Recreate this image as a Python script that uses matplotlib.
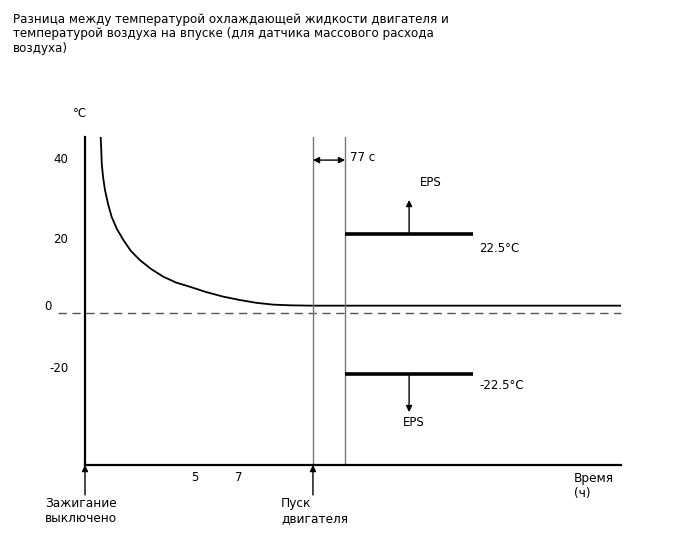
import numpy as np
import matplotlib
matplotlib.use("Agg")
import matplotlib.pyplot as plt
import matplotlib.transforms as mtransforms

plt.rcParams['font.family'] = ['DejaVu Sans']

# ---------- data ---------- #
title = ("Разница между температурой охлаждающей жидкости двигателя и\n"
         "температурой воздуха на впуске (для датчика массового расхода\n"
         "воздуха)")

# coolant - intake air difference after ignition off (time in h, temp in C)
curve_t = [0.71, 0.74, 0.76, 0.82, 0.91, 1.05, 1.21, 1.45, 1.74, 2.09, 2.50,
           3.00, 3.55, 4.14, 4.77, 5.50, 6.27, 7.05, 7.80, 8.55, 9.32, 10.36, 24.36]
curve_dt = [50.4, 46.6, 42.9, 38.9, 35.1, 31.1, 27.5, 24.0, 20.9, 17.7, 15.1,
            12.6, 10.4, 8.7, 7.5, 6.0, 4.7, 3.7, 2.9, 2.4, 2.2, 2.1, 2.1]

engine_start = 10.36          # h
delay_end = 11.82             # engine start + 77 s (schematic)
band_end = 17.64
eps_t = 14.73
thresholds = [22.5, -22.5]
threshold_labels = ["22.5°C", "-22.5°C"]

y_ticks = [40, 20, 0, -20]
x_ticks = [5, 7]
t_max = 24.36
y_top, y_bottom = 50.3, -56.3


# schematic y axis: different scale above and below zero
def fwd(v):
    v = np.asarray(v, dtype=float)
    return np.where(v >= 0, v * 3.5, v * 2.7)


def inv(v):
    v = np.asarray(v, dtype=float)
    return np.where(v >= 0, v / 3.5, v / 2.7)


fig = plt.figure(figsize=(6.88, 5.6), dpi=100)
ax = fig.add_axes([85 / 688, 95 / 560, 536 / 688, 328 / 560])
ax.set_yscale('function', functions=(fwd, inv))
ax.set_xlim(0, t_max)
ax.set_ylim(y_bottom, y_top)

for s in ['top', 'right']:
    ax.spines[s].set_visible(False)
ax.spines['left'].set_linewidth(1.6)
ax.spines['bottom'].set_linewidth(1.6)

ax.set_yticks(y_ticks)
ax.set_yticklabels([str(v) for v in y_ticks])
ax.set_xticks(x_ticks)
ax.set_xticklabels([str(v) for v in x_ticks])
ax.tick_params(axis='both', length=0, labelsize=8.5)
ax.tick_params(axis='y', pad=12)
ax.tick_params(axis='x', pad=4)
ax.yaxis.set_minor_locator(matplotlib.ticker.NullLocator())

# nudge the y labels to where the schematic has them (pixels: right, up)
nudges = [(0, 15), (0, 5), (-17, 8), (0, 0)]
for lab, (dx, dy) in zip(ax.get_yticklabels(), nudges):
    off = mtransforms.ScaledTranslation(dx / 100, dy / 100, fig.dpi_scale_trans)
    lab.set_transform(lab.get_transform() + off)

# zero line
ax.plot([-1.23, t_max], [0, 0], color='#555555', lw=1, ls=(0, (6, 4)), clip_on=False)

# curve
ax.plot(curve_t, curve_dt, color='black', lw=1.3)

# vertical markers
ax.axvline(engine_start, color='#777777', lw=1)
ax.axvline(delay_end, color='#777777', lw=1)

# 77 s span
ax.annotate('', xy=(delay_end, 43.7), xytext=(engine_start, 43.7),
            arrowprops=dict(arrowstyle='<|-|>', color='black', lw=1,
                            mutation_scale=9, shrinkA=0, shrinkB=0))
ax.text(delay_end + 0.23, 44.3, "77 с", fontsize=8.5, va='center', ha='left')

# threshold bands
for th, lab in zip(thresholds, threshold_labels):
    ax.plot([delay_end, band_end], [th, th], color='black', lw=2.6,
            solid_capstyle='butt')
    ax.text(band_end + 0.27, th - 4 if th > 0 else th - 4.2, lab,
            fontsize=8.5, ha='left', va='center')

ax.annotate('', xy=(eps_t, 32.3), xytext=(eps_t, thresholds[0]),
            arrowprops=dict(arrowstyle='-|>', color='black', lw=1,
                            mutation_scale=9, shrinkA=0, shrinkB=0))
ax.text(eps_t + 1.0, 37.4, "EPS", fontsize=8.5, ha='center', va='center')
ax.annotate('', xy=(eps_t, -36.7), xytext=(eps_t, thresholds[1]),
            arrowprops=dict(arrowstyle='-|>', color='black', lw=1,
                            mutation_scale=9, shrinkA=0, shrinkB=0))
ax.text(eps_t + 0.22, -40.4, "EPS", fontsize=8.5, ha='center', va='center')

# unit label
ax.text(-0.23, 57.1, "°C", fontsize=8.5, ha='center', va='center', clip_on=False)

# event arrows under the time axis
for t in [0, engine_start]:
    ax.annotate('', xy=(t, y_bottom), xytext=(t, -67.4),
                arrowprops=dict(arrowstyle='-|>', color='black', lw=1,
                                mutation_scale=9, shrinkA=0, shrinkB=0),
                annotation_clip=False)

fig.text(45 / 688, 1 - 497 / 560, "Зажигание\nвыключено", fontsize=8.7,
         ha='left', va='top', linespacing=1.25)
fig.text(281 / 688, 1 - 497 / 560, "Пуск\nдвигателя", fontsize=8.7,
         ha='left', va='top', linespacing=1.25)
fig.text(574 / 688, 1 - 472 / 560, "Время\n(ч)", fontsize=8.7,
         ha='left', va='top', linespacing=1.25)

fig.text(13 / 688, 1 - 13 / 560, title, fontsize=8.6, ha='left', va='top',
         linespacing=1.15)

fig.savefig("out.png", dpi=100)
